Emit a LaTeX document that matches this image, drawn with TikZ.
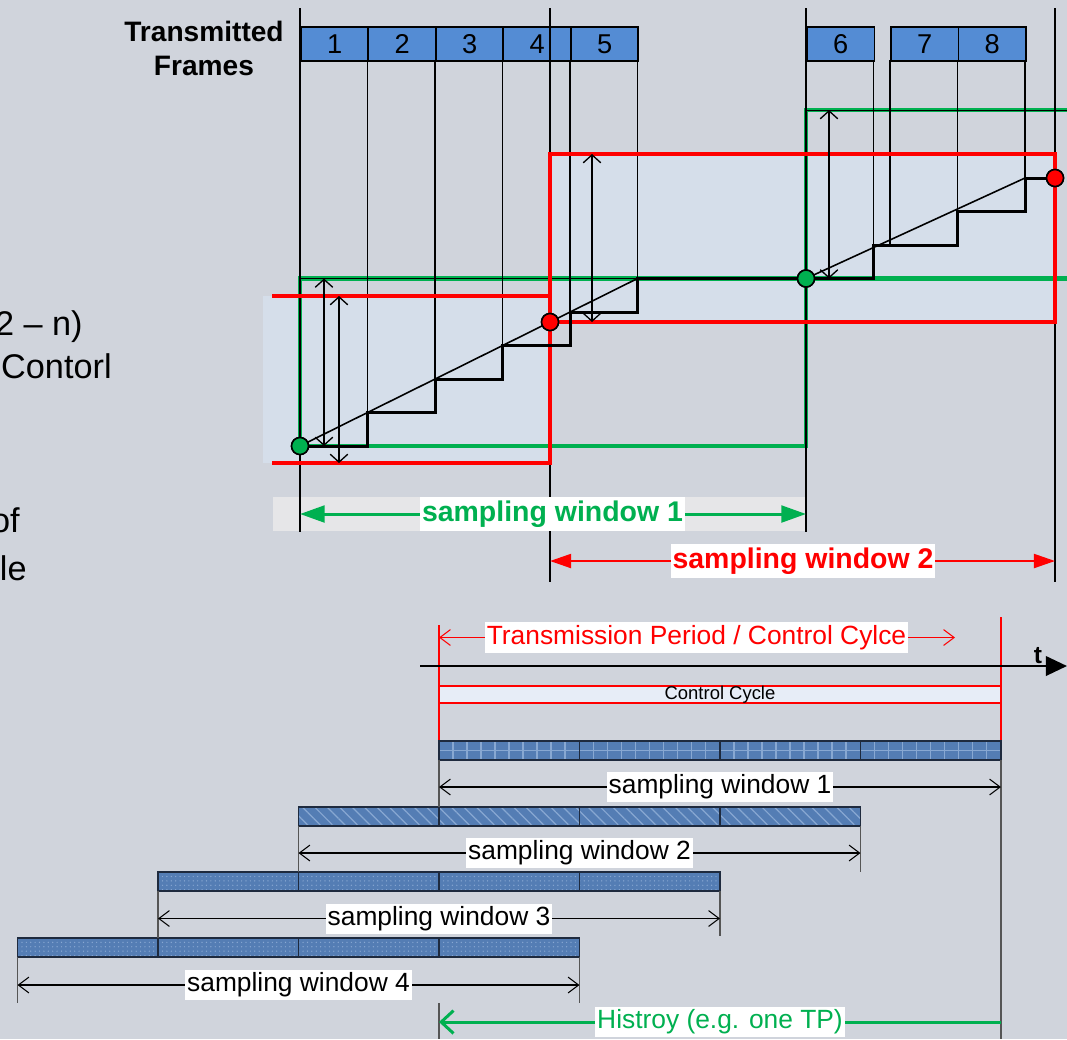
\documentclass[tikz,border=0pt]{standalone}
\usepackage{fontspec}
\setmainfont{Liberation Sans}
\usetikzlibrary{arrows.meta,patterns.meta}
\definecolor{bg}{RGB}{208,212,220}
\definecolor{pale}{RGB}{213,222,234}
\definecolor{band}{RGB}{230,230,232}
\definecolor{frameblue}{RGB}{84,140,212}
\definecolor{gwin}{RGB}{0,176,80}
\definecolor{rwin}{RGB}{255,0,0}
\definecolor{barblue}{RGB}{84,125,180}
\definecolor{barlite}{RGB}{136,168,210}
\definecolor{bardark}{RGB}{30,42,62}
\definecolor{cyclefill}{RGB}{231,237,247}
\definecolor{extgray}{RGB}{85,85,85}

\begin{document}
\begin{tikzpicture}[x=0.02cm,y=-0.02cm,
  longline/.style={line width=1.2pt},
  frameline/.style={line width=0.9pt},
  stair/.style={line width=1.7pt},
  slope/.style={line width=0.9pt},
  gline/.style={gwin, line width=2.8pt},
  rline/.style={rwin, line width=2.8pt},
  vdim/.style={line width=0.75pt,
    {Straight Barb[length=4.5pt,width=10pt]}-{Straight Barb[length=4.5pt,width=10pt]}},
  hdim/.style={line width=0.6pt,
    {Straight Barb[length=6pt,width=9pt]}-{Straight Barb[length=6pt,width=9pt]}},
  frm/.style={draw, line width=1.1pt, fill=frameblue, anchor=north west,
    inner sep=0pt, minimum width=1.35cm, minimum height=0.68cm,
    font=\fontsize{15.5}{18}\selectfont},
  gdot/.style={circle, draw=black, line width=0.9pt, fill=gwin,
    minimum size=0.34cm, inner sep=0pt},
  rdot/.style={gdot, fill=rwin},
  boldlbl/.style={fill=white, inner xsep=1pt, inner ysep=0.7pt,
    text height=13.5pt, text depth=4.5pt,
    font=\fontsize{16.2}{19}\selectfont\bfseries},
  lbl/.style={fill=white, inner xsep=1pt, inner ysep=0.8pt,
    text height=11.5pt, text depth=4pt,
    font=\fontsize{15}{18}\selectfont},
  side/.style={anchor=base east, inner sep=0pt,
    font=\fontsize{19.5}{22}\selectfont},
  ext/.style={extgray, line width=0.6pt},
  seg/.style={bardark, line width=0.9pt},
]
\useasboundingbox (0,0) rectangle (1067,1039);
\clip (0,0) rectangle (1067,1039);
\fill[bg] (0,0) rectangle (1067,1039);

% text running in from the left
\node[side] (s1) at (83,335) {2 – n)};
\node[side] (s2) at (112,378) {Contorl};
\node[side] (s3) at (20,532) {of};
\node[side] (s4) at (27,580) {le};

% shaded sampling windows
\fill[pale] (263,296) rectangle (550,463);
\fill[pale] (550,154) rectangle (1055,322);
\fill[band] (273,497) rectangle (806,531);

% green windows
\draw[gline] (1067,278.5) -- (300,278.5) -- (300,446) -- (806,446) -- (806,110) -- (1067,110);

% long time markers
\draw[longline] (300,8) -- (300,532);
\draw[longline] (550,8) -- (550,582);
\draw[longline] (806,8) -- (806,532);
\draw[longline] (1055,8) -- (1055,582);

% frame drop lines
\foreach \x/\y in {367.5/412.5, 435/379, 502.5/345.5, 570/312, 637.5/278.5,
                   873.5/245, 890/245, 957.5/211.5, 1025/178}
  \draw[frameline] (\x,60) -- (\x,\y);
\draw[line width=0.4pt] (300,278.5) -- (637.5,278.5);
\draw[line width=0.4pt] (806,110) -- (1067,110);

% red windows
\draw[rline] (272,296) -- (550,296);
\draw[rline] (272,463) -- (550,463) -- (550,154) -- (1055,154) -- (1055,322) -- (550,322);

% sample points
\node[gdot] (g1) at (300,446) {};
\node[gdot] (g2) at (806,278.5) {};
\node[rdot] (r1) at (550,322) {};
\node[rdot] (r2) at (1055,178) {};

% staircases and slopes
\draw[stair] (g1.center) -- (367.5,446) -- (367.5,412.5) -- (435,412.5) -- (435,379)
  -- (502.5,379) -- (502.5,345.5) -- (570,345.5) -- (570,312) -- (637.5,312)
  -- (637.5,278.5) -- (g2.west);
\draw[stair] (g2.east) -- (873.5,278.5) -- (873.5,245) -- (957.5,245) -- (957.5,211.5)
  -- (1025,211.5) -- (1025,178) -- (r2.west);
\draw[slope] (g1.center) -- (r1.center);
\draw[slope] (r1.center) -- (637.5,278.5);
\draw[slope] (g2.center) -- (1025,178);
\node[gdot] at (g1) {};
\node[gdot] at (g2) {};
\node[rdot] at (r1) {};
\node[rdot] at (r2) {};

% window heights
\draw[vdim] (324,278.5) -- (324,446);
\draw[vdim] (339,296) -- (339,463);
\draw[vdim] (592,154) -- (592,322);
\draw[vdim] (829,110) -- (829,278.5);

% transmitted frames
\node[frm] (f1) at (300,26) {1};
\node[frm] (f2) at (367.5,26) {2};
\node[frm] (f3) at (435,26) {3};
\node[frm] (f4) at (502.5,26) {4};
\node[frm] (f5) at (570,26) {5};
\node[frm] (f6) at (806,26) {6};
\node[frm] (f7) at (890,26) {7};
\node[frm] (f8) at (957.5,26) {8};
\draw[longline] (550,8) -- (550,60);
\node[align=center, font=\fontsize{16}{19.3}\selectfont\bfseries] (tf) at (204,48)
  {Transmitted\\Frames};

% sampling window spans
\draw[gwin, line width=1.7pt,
  {Triangle[length=14pt,width=9.5pt]}-{Triangle[length=14pt,width=9.5pt]}]
  (300,514) -- (806,514);
\node[boldlbl, text=gwin] (sw1) at (552.5,514) {sampling window 1};
\draw[rwin, line width=1.1pt,
  {Triangle[length=12pt,width=8pt]}-{Triangle[length=12pt,width=8pt]}]
  (550,561) -- (1055,561);
\node[boldlbl, text=rwin] (sw2) at (803,561) {sampling window 2};

% time axis and control cycle
\draw[rwin, line width=0.6pt] (439,625) -- (439,741);
\draw[rwin, line width=0.6pt] (1001,617) -- (1001,741);
\draw[line width=1.5pt, -{Triangle[length=12pt,width=11pt]}] (420,666) -- (1067,666);
\node[anchor=base, inner sep=0pt, font=\fontsize{14}{16}\selectfont\bfseries] (t) at (1038,663) {t};
\draw[rwin, hdim] (439,637.5) -- (955,637.5);
\node[lbl, text=rwin] (tp) at (696.5,637.5) {Transmission Period / Control Cylce};
\draw[rwin, line width=0.6pt, fill=cyclefill] (439,686) rectangle (1001,703);
\node[inner sep=0pt, font=\fontsize{10.5}{12}\selectfont] (cc) at (720,694.5) {Control Cycle};

% row 1 (grid)
\fill[barblue] (439,741) rectangle (1001,760);
\begin{scope}
\clip (439,741) rectangle (1001,760);
\foreach \s in {0,...,3}
  \foreach \k in {1,...,9}
    \draw[barlite, line width=1pt] ({439+140.5*\s+14*\k},741) -- ++(0,19);
\draw[barlite, line width=1pt] (439,750.5) -- (1001,750.5);
\end{scope}
\draw[seg] (439,741) rectangle (1001,760);
\foreach \x in {579.5,720,860.5} \draw[seg] (\x,741) -- (\x,760);

% row 2 (hatched)
\fill[barblue] (298.5,807) rectangle (860.5,826);
\fill[pattern={Lines[angle=-45,distance=5pt,line width=0.7pt]}, pattern color=barlite]
  (298.5,807) rectangle (860.5,826);
\draw[seg] (298.5,807) rectangle (860.5,826);
\foreach \x in {439,579.5,720} \draw[seg] (\x,807) -- (\x,826);

% row 3 (dotted)
\fill[barblue] (158,872) rectangle (720,891);
\fill[pattern={Dots[distance=2.5pt,radius=0.4pt]}, pattern color=barlite]
  (158,872) rectangle (720,891);
\draw[seg] (158,872) rectangle (720,891);
\foreach \x in {298.5,439,579.5} \draw[seg] (\x,872) -- (\x,891);

% row 4 (dotted)
\fill[barblue] (17.5,938) rectangle (579.5,957);
\fill[pattern={Dots[distance=2.5pt,radius=0.4pt]}, pattern color=barlite]
  (17.5,938) rectangle (579.5,957);
\draw[seg] (17.5,938) rectangle (579.5,957);
\foreach \x in {158,298.5,439} \draw[seg] (\x,938) -- (\x,957);

% extension lines
\draw[ext] (439,760) -- (439,807);
\draw[ext] (1001,760) -- (1001,1039);
\draw[ext] (298.5,826) -- (298.5,872);
\draw[ext] (860.5,826) -- (860.5,872);
\draw[ext] (158,891) -- (158,938);
\draw[ext] (720,891) -- (720,936);
\draw[ext] (17.5,957) -- (17.5,1003);
\draw[ext] (579.5,957) -- (579.5,1003);
\draw[ext] (439,1003) -- (439,1039);

% sampling window dimensions
\draw[hdim] (439,787) -- (1001,787);
\node[lbl] (b1) at (720,787) {sampling window 1};
\draw[hdim] (298.5,853) -- (860.5,853);
\node[lbl] (b2) at (579.5,853) {sampling window 2};
\draw[hdim] (158,918.5) -- (720,918.5);
\node[lbl] (b3) at (439,918.5) {sampling window 3};
\draw[hdim] (17.5,985) -- (579.5,985);
\node[lbl] (b4) at (298.5,985) {sampling window 4};

% history
\draw[gwin, line width=1.7pt, -{Straight Barb[length=7pt,width=13pt]}] (1001,1022) -- (439,1022);
\node[lbl, text=gwin] (hist) at (720,1022) {Histroy (e.g. one TP)};
\end{tikzpicture}
\end{document}
